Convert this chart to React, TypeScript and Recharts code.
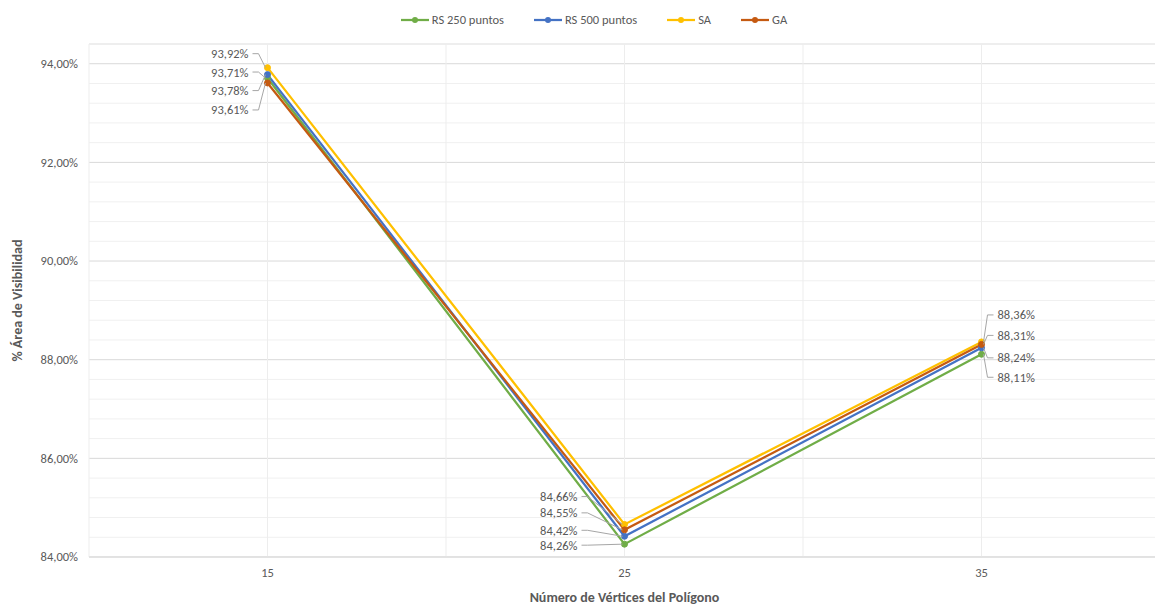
import React from 'react'
import {
  LineChart,
  Line,
  XAxis,
  YAxis,
  CartesianGrid,
  ReferenceLine,
  Label,
} from 'recharts'

// categories on the x axis (number of polygon vertices)
const categories = [15, 25, 35]

// % visibility area per series
const rs250 = [93.71, 84.26, 88.11]
const rs500 = [93.78, 84.42, 88.24]
const sa = [93.92, 84.66, 88.36]
const ga = [93.61, 84.55, 88.31]

const yTicks = [84, 86, 88, 90, 92, 94]
const yMinor = [84.4, 84.8, 85.2, 85.6, 86.4, 86.8, 87.2, 87.6, 88.4, 88.8, 89.2, 89.6, 90.4, 90.8, 91.2, 91.6, 92.4, 92.8, 93.2, 93.6, 94.4]
const xGrid = [10, 15, 20, 25, 30, 35, 40]

const FONT = 'Carlito, Calibri, Lato, "Open Sans", sans-serif'
const TEXT = '#595959'

// where each data label sits relative to its point (Excel-style with leader lines)
type LabelPos = { dx: number; dy: number }

const SERIES: { key: string; name: string; color: string; labels: LabelPos[] }[] = [
  { key: 'rs250', name: 'RS 250 puntos', color: '#70AD47', labels: [{ dx: -19, dy: -6 }, { dx: -47, dy: 1 }, { dx: 16, dy: 23 }] },
  { key: 'rs500', name: 'RS 500 puntos', color: '#4472C4', labels: [{ dx: -19, dy: 16 }, { dx: -47, dy: -6 }, { dx: 16, dy: 10 }] },
  { key: 'sa', name: 'SA', color: '#FFC000', labels: [{ dx: -19, dy: -14 }, { dx: -47, dy: -28 }, { dx: 16, dy: -27 }] },
  { key: 'ga', name: 'GA', color: '#C55A11', labels: [{ dx: -19, dy: 27 }, { dx: -47, dy: -17 }, { dx: 16, dy: -9 }] },
]

const data = categories.map((x, i) => ({
  x,
  rs250: rs250[i],
  rs500: rs500[i],
  sa: sa[i],
  ga: ga[i],
}))

const fmt = (v: number) => v.toFixed(2).replace('.', ',') + '%'

function makeLabel(positions: LabelPos[]) {
  return (props: any) => {
    const { x, y, value, index } = props
    const pos = positions[index]
    if (!pos || value == null) return null
    const lx = x + pos.dx
    const ly = y + pos.dy
    const left = pos.dx < 0
    const edge = left ? lx + 4 : lx - 4
    const knee = left ? lx + 10 : lx - 10
    const end = left ? x - 2 : x + 2
    return (
      <g key={`lbl-${index}`}>
        <path
          d={`M${edge},${ly} L${knee},${ly} L${end},${y}`}
          fill="none"
          stroke="#A6A6A6"
          strokeWidth={1}
        />
        <text
          x={lx}
          y={ly}
          textAnchor={left ? 'end' : 'start'}
          dominantBaseline="central"
          fontSize={12.5}
          fontFamily={FONT}
          fill={TEXT}
        >
          {fmt(value)}
        </text>
      </g>
    )
  }
}

function TopLegend() {
  return (
    <div
      style={{
        position: 'absolute',
        top: 12,
        left: 0,
        width: 1188,
        display: 'flex',
        justifyContent: 'center',
        gap: 30,
        fontFamily: FONT,
        fontSize: 12.5,
        color: TEXT,
      }}
    >
      {SERIES.map(s => (
        <div key={s.key} style={{ display: 'flex', alignItems: 'center' }}>
          <svg width={28} height={10} style={{ marginRight: 3 }}>
            <line x1={0} y1={5} x2={28} y2={5} stroke={s.color} strokeWidth={2.25} />
            <circle cx={14} cy={5} r={3} fill={s.color} />
          </svg>
          <span>{s.name}</span>
        </div>
      ))}
    </div>
  )
}

export default function App() {
  return (
    <div
      style={{
        position: 'absolute',
        left: 0,
        top: 0,
        width: 1155,
        height: 605,
        overflow: 'hidden',
        background: '#fff',
        fontFamily: FONT,
      }}
    >
      <LineChart width={1170} height={605} data={data} margin={{ top: 44, right: 10, left: 0, bottom: 0 }}>
        <CartesianGrid vertical={false} stroke="#D9D9D9" />
        {yMinor.map(v => (
          <ReferenceLine key={`hy-${v}`} y={v} stroke="#F0F0F0" strokeWidth={1} />
        ))}
        {xGrid.map(v => (
          <ReferenceLine key={`vx-${v}`} x={v} stroke="#EDEDED" strokeWidth={1} />
        ))}
        <XAxis
          type="number"
          dataKey="x"
          domain={[10, 40]}
          ticks={categories}
          allowDataOverflow
          axisLine={{ stroke: '#D9D9D9' }}
          tickLine={false}
          tickSize={0}
          tickMargin={11}
          height={48}
          tick={{ fontSize: 12.5, fill: TEXT, fontFamily: FONT }}
        >
          <Label
            value="Número de Vértices del Polígono"
            position="insideBottom"
            offset={3}
            style={{ fontSize: 14, fontWeight: 700, fill: TEXT, fontFamily: FONT }}
          />
        </XAxis>
        <YAxis
          type="number"
          domain={[84, 94.4]}
          ticks={yTicks}
          allowDataOverflow
          axisLine={false}
          tickLine={false}
          tickSize={0}
          tickMargin={11}
          width={89}
          tickFormatter={fmt}
          tick={{ fontSize: 12.5, fill: TEXT, fontFamily: FONT }}
        >
          <Label
            value="% Área de Visibilidad"
            angle={-90}
            position="insideLeft"
            offset={17}
            style={{ fontSize: 14, fontWeight: 700, fill: TEXT, fontFamily: FONT, textAnchor: 'middle' }}
          />
        </YAxis>
        {SERIES.map(s => (
          <Line
            key={s.key}
            type="linear"
            dataKey={s.key}
            name={s.name}
            stroke={s.color}
            strokeWidth={2.25}
            dot={{ r: 3, fill: s.color, stroke: s.color, strokeWidth: 1 }}
            isAnimationActive={false}
            label={makeLabel(s.labels)}
          />
        ))}
      </LineChart>
      <TopLegend />
    </div>
  )
}
